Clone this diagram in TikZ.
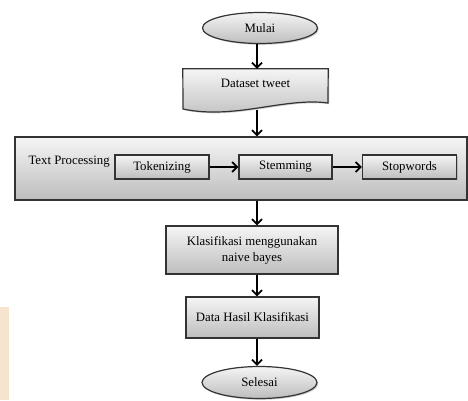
\documentclass[tikz,border=0pt]{standalone}
\usepackage{fontspec}
\setmainfont{Liberation Serif}
\usetikzlibrary{arrows.meta,shadows,shapes.geometric}
\definecolor{edge}{HTML}{333333}
\definecolor{topg}{HTML}{F5F5F5}
\definecolor{botg}{HTML}{BDBDBD}
\definecolor{beige}{HTML}{F6E4CF}
\tikzset{
  txt/.style={font=\fontsize{12.8}{16}\selectfont},
  base/.style={draw=edge, line width=1.2pt, top color=topg, bottom color=botg,
    drop shadow={shadow xshift=1.3pt, shadow yshift=-1.3pt, opacity=0.35},
    txt, inner sep=0pt},
  term/.style={base, ellipse, minimum width=115pt, minimum height=31pt},
  procbox/.style={base, rectangle},
  arr/.style={line width=1.8pt, -{Straight Barb[length=5pt,width=10pt]}}
}
\begin{document}
\begin{tikzpicture}[x=1pt,y=-1pt]
\useasboundingbox (0,0) rectangle (468,400);
\fill[beige] (0,307) rectangle (9,400);
\coordinate (ax) at (257,0);
% start
\node[term] (mulai) at (260,28) {Mulai};
% dataset (document shape)
\node[minimum width=145pt, minimum height=41pt, inner sep=0pt] (ds) at (255.5,89.5) {};
\path[draw=edge, line width=1.2pt, top color=topg, bottom color=botg,
  drop shadow={shadow xshift=1.3pt, shadow yshift=-1.3pt, opacity=0.35}]
  (ds.north west) -- (ds.north east) -- (328,103)
  .. controls (285,97) and (235,120) .. (183,109) -- cycle;
\node[txt] (dslabel) at (255.5,83) {Dataset tweet};
% text processing group
\node[procbox, minimum width=452pt, minimum height=63pt] (tp) at (241,168.5) {};
\node[txt, anchor=west] (tplabel) at (25,162) {Text Processing};
\node[procbox, minimum width=94pt, minimum height=24pt] (tok) at (162,167) {Tokenizing};
\node[procbox, minimum width=93pt, minimum height=24pt] (stem) at (285.5,167) {Stemming};
\node[procbox, minimum width=94pt, minimum height=24pt] (stop) at (409.5,167) {Stopwords};
% classification
\node[procbox, minimum width=172pt, minimum height=48pt, align=center] (klas) at (252,250)
  {Klasifikasi menggunakan\\naive bayes};
\node[procbox, minimum width=133pt, minimum height=41pt] (data) at (252.5,317.5) {Data Hasil Klasifikasi};
\node[term, minimum height=32pt] (sel) at (259.5,382.5) {Selesai};
% connectors
\coordinate (dsb) at (257,110);
\draw[arr] (ax |- mulai.south) -- (ax |- ds.north);
\draw[arr] (dsb) -- (ax |- tp.north);
\draw[arr] (tok.east) -- (stem.west);
\draw[arr] (stem.east) -- (stop.west);
\draw[arr] (ax |- tp.south) -- (ax |- klas.north);
\draw[arr] (ax |- klas.south) -- (ax |- data.north);
\draw[arr] (ax |- data.south) -- (ax |- sel.north);
\end{tikzpicture}
\end{document}
